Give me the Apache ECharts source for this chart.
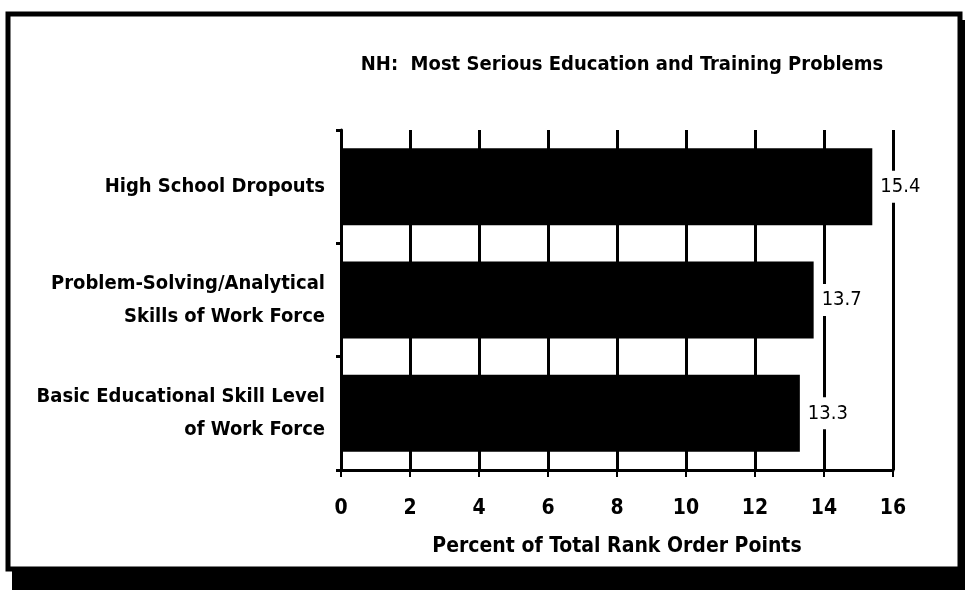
<!DOCTYPE html>
<html>
<head>
<meta charset="utf-8">
<script src="https://cdn.jsdelivr.net/npm/echarts@6/dist/echarts.min.js"></script>
<style>
  html, body { margin: 0; padding: 0; background: #fff; }
  #chart { width: 968px; height: 591px; }
</style>
</head>
<body>
<div id="chart"></div>
<script>
// data
const categories = [
  'Basic Educational Skill Level\nof Work Force',
  'Problem-Solving/Analytical\nSkills of Work Force',
  'High School Dropouts'
];
const values = [13.3, 13.7, 15.4];
const xTicks = [0, 2, 4, 6, 8, 10, 12, 14, 16];

const font = '"DejaVu Sans Condensed", "DejaVu Sans", sans-serif';

const chart = echarts.init(document.getElementById('chart'));
const option = {
  backgroundColor: '#fff',
  animation: false,
  title: {
    text: 'NH:  Most Serious Education and Training Problems',
    left: 617,
    textAlign: 'center',
    top: 50,
    textStyle: { fontFamily: font, fontSize: 20, fontWeight: 'bold', color: '#000' }
  },
  grid: { left: 341, right: 75, top: 130, bottom: 121 },
  xAxis: {
    type: 'value',
    min: xTicks[0],
    max: xTicks[xTicks.length - 1],
    interval: 2,
    name: 'Percent of Total Rank Order Points',
    nameLocation: 'middle',
    nameGap: 66,
    nameTextStyle: { fontFamily: font, fontSize: 21, fontWeight: 'bold', color: '#000' },
    axisLine: { show: true, lineStyle: { color: '#000', width: 3 } },
    axisTick: { show: true, length: 7, lineStyle: { color: '#000', width: 2 } },
    axisLabel: { margin: 28, fontFamily: font, fontSize: 21, fontWeight: 'bold', color: '#000' },
    splitLine: { show: true, lineStyle: { color: '#000', width: 3 } }
  },
  yAxis: {
    type: 'category',
    data: categories,
    axisLine: { show: true, lineStyle: { color: '#000', width: 3 } },
    axisTick: { show: true, length: 5, lineStyle: { color: '#000', width: 3 } },
    axisLabel: {
      margin: 16, fontFamily: font, fontSize: 20, fontWeight: 'bold',
      color: '#000', lineHeight: 33, align: 'right'
    }
  },
  series: [{
    type: 'bar',
    data: values,
    barWidth: '68%',
    itemStyle: { color: '#000' },
    z: 3,
    label: {
      show: true,
      position: 'right',
      distance: 4,
      fontFamily: font,
      fontSize: 20,
      color: '#000',
      backgroundColor: '#fff',
      padding: [6, 4]
    }
  }],
  graphic: [
    // shadow of the frame
    { type: 'rect', shape: { x: 12, y: 570, width: 953, height: 20 }, style: { fill: '#000' }, z: 0 },
    { type: 'rect', shape: { x: 958, y: 20, width: 7, height: 570 }, style: { fill: '#000' }, z: 0 },
    // frame
    { type: 'rect', shape: { x: 8, y: 14, width: 952, height: 555 },
      style: { fill: 'none', stroke: '#000', lineWidth: 5 }, z: 1 }
  ]
};
chart.setOption(option);
</script>
</body>
</html>
